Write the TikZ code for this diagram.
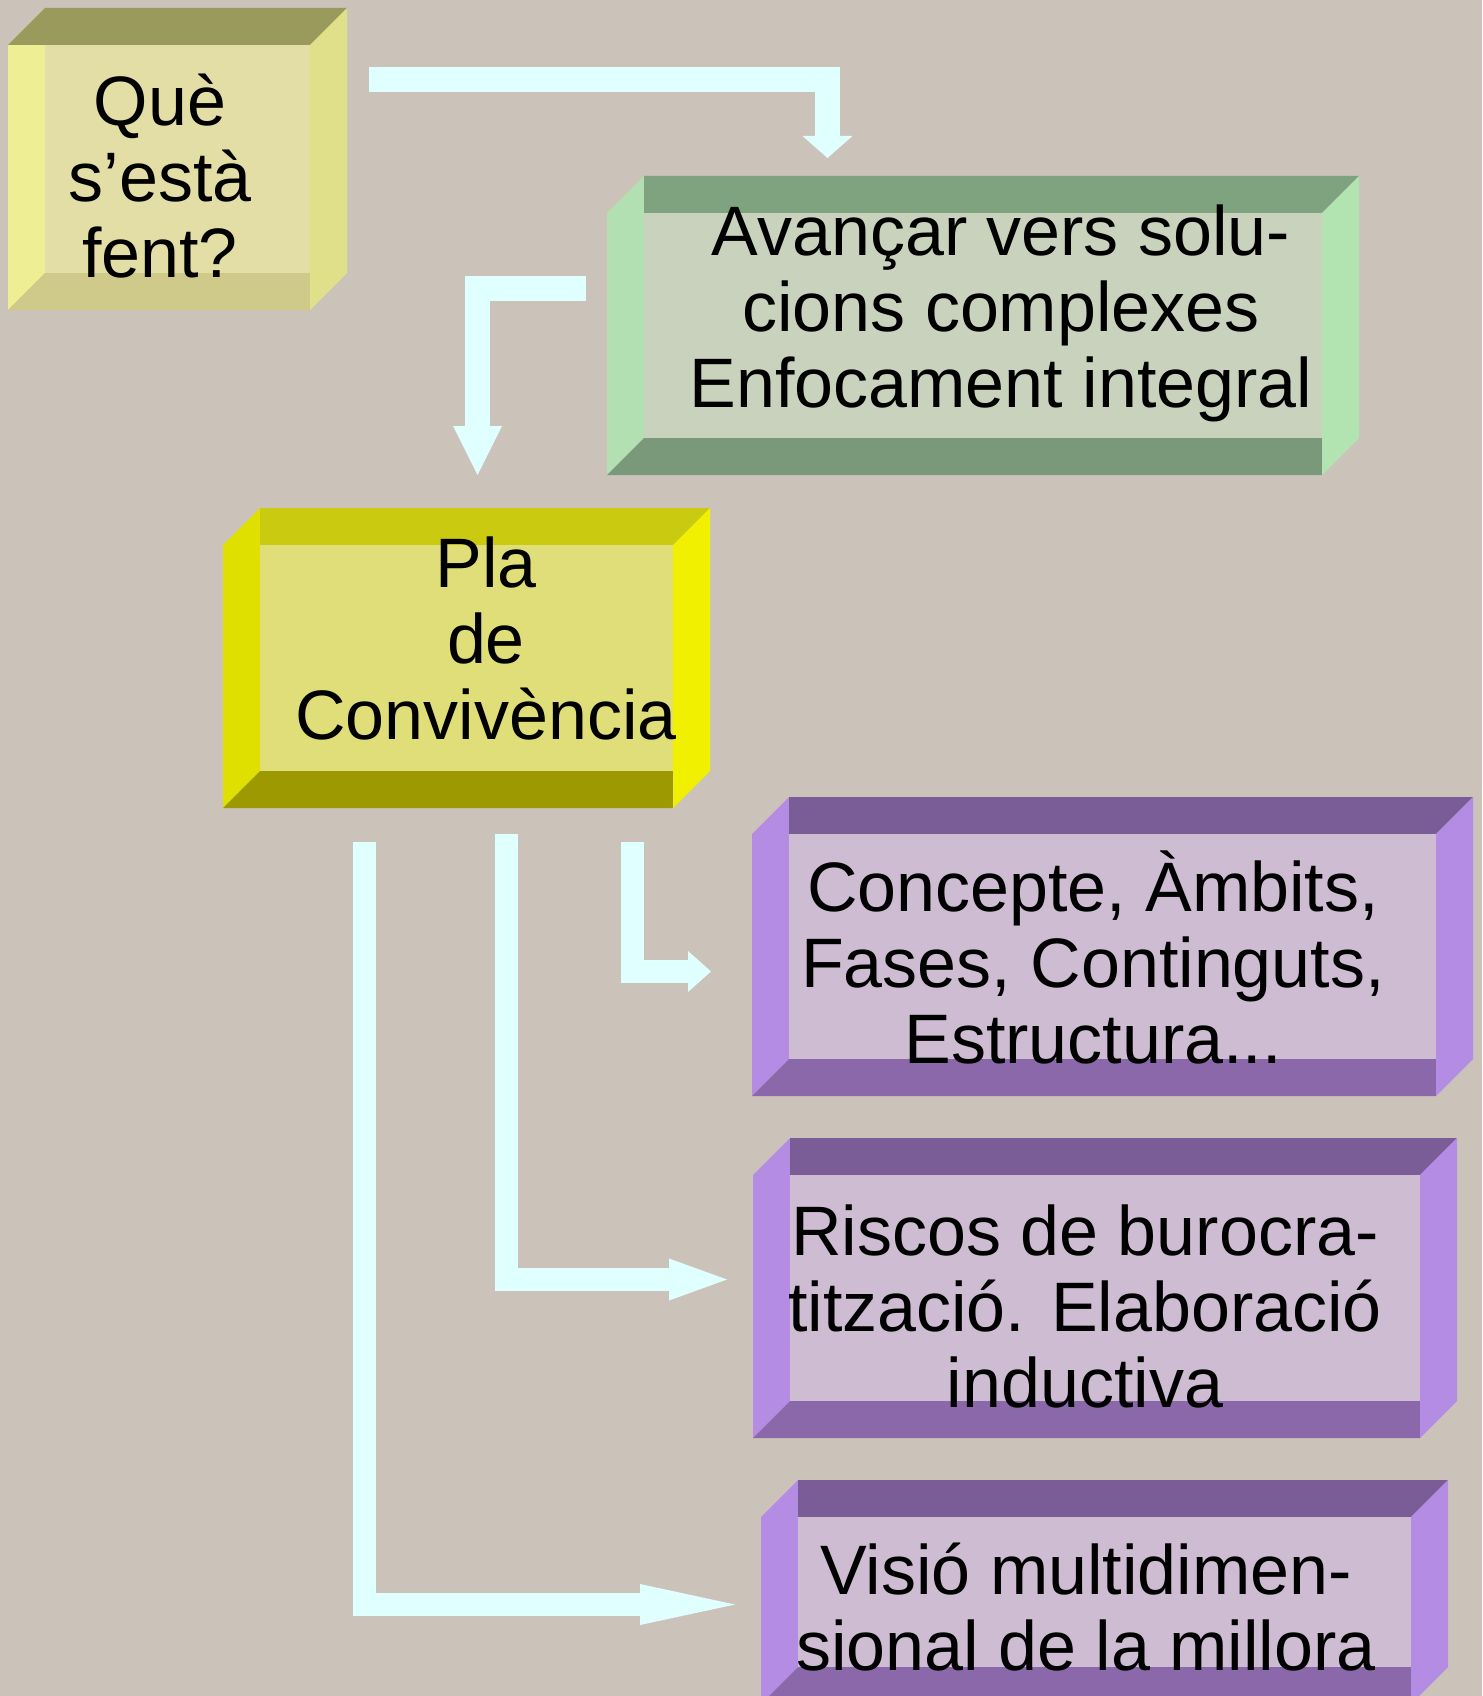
\documentclass[tikz,border=0pt]{standalone}
\usepackage{fontspec}
\setmainfont{Liberation Sans}
\usetikzlibrary{arrows.meta}

\definecolor{bg}{HTML}{CBC3B9}
\definecolor{arrowcyan}{HTML}{E0FFFF}
% pale yellow box
\definecolor{qtop}{HTML}{9A9A5C}
\definecolor{qleft}{HTML}{EEEE95}
\definecolor{qfront}{HTML}{E3DDA6}
\definecolor{qright}{HTML}{E0E08A}
\definecolor{qbottom}{HTML}{CFC98A}
% green box
\definecolor{gtop}{HTML}{7FA27F}
\definecolor{gleft}{HTML}{B2E0B2}
\definecolor{gfront}{HTML}{C9D2BC}
\definecolor{gright}{HTML}{B2E4B2}
\definecolor{gbottom}{HTML}{7A997A}
% yellow box
\definecolor{ytop}{HTML}{CACA10}
\definecolor{yleft}{HTML}{E0E000}
\definecolor{yfront}{HTML}{E0DE78}
\definecolor{yright}{HTML}{F0F000}
\definecolor{ybottom}{HTML}{9C9A00}
% purple boxes
\definecolor{ptop}{HTML}{7A5C96}
\definecolor{pleft}{HTML}{B48CE4}
\definecolor{pfront}{HTML}{CDBCD2}
\definecolor{pright}{HTML}{B48CE4}
\definecolor{pbottom}{HTML}{8A68AA}

% bevelled box: x0, y0, x1, y1, colour prefix
\newcommand{\bevelbox}[5]{%
  \fill[#5left] (#1,#2+37) -- (#1+37,#2) -- (#1+37,#4-37) -- (#1,#4) -- cycle;
  \fill[#5top] (#1+37,#2) -- (#3,#2) -- (#3-37,#2+37) -- (#1+37,#2+37) -- cycle;
  \fill[#5bottom] (#1,#4) -- (#1+37,#4-37) -- (#3-37,#4-37) -- (#3-37,#4) -- cycle;
  \fill[#5right] (#3-37,#2+37) -- (#3,#2) -- (#3,#4-37) -- (#3-37,#4) -- cycle;
  \fill[#5front] (#1+37,#2+37) rectangle (#3-37,#4-37);
}

\begin{document}
\begin{tikzpicture}[
    x=1pt, y=-1pt,
    txt/.style={align=center, inner sep=0pt, anchor=base, font=\fontsize{70}{76}\selectfont},
    shaft/.style={draw=arrowcyan, line width=25pt, line join=miter, line cap=butt},
    thinshaft/.style={shaft, line width=23pt}
]
    \useasboundingbox (0,0) rectangle (1482,1696);
    \clip (0,0) rectangle (1482,1696);
    \fill[bg] (0,0) rectangle (1482,1696);

    % Boxes
    \bevelbox{8}{8}{347}{310}{q}
    \fill[qtop] (8,45) -- (45,8) -- (45,45) -- cycle;
    \bevelbox{607}{176}{1359}{475}{g}
    \bevelbox{223}{508}{710}{808}{y}
    \bevelbox{752}{797}{1473}{1096}{p}
    \bevelbox{753}{1138}{1457}{1438}{p}
    \bevelbox{761}{1480}{1448}{1704}{p}

    % Texts
    \node (que) [txt] at (160,277) {Què\\s’està\\fent?};
    \node (avancar) [txt] at (1001,407) {Avançar vers solu-\\cions complexes\\Enfocament integral};
    \node (pla) [txt] at (486,739) {Pla\\de\\Convivència};
    \node (concepte) [txt] at (1093,1063) {Concepte, Àmbits,\\Fases, Continguts,\\Estructura...};
    \node (riscos) [txt] at (1085,1407) {Riscos de burocra-\\tització. Elaboració\\inductiva};
    \node (visio) [txt] at (1086,1670) {Visió multidimen-\\sional de la millora};

    % Arrow ends
    \coordinate (queout) at (369,79.5);
    \coordinate (avancarin) at (827.5,158);
    \coordinate (avancarout) at (586,288.5);
    \coordinate (plain) at (477.5,475);
    \coordinate (plaout1) at (632.5,842);
    \coordinate (plaout2) at (506.5,834);
    \coordinate (plaout3) at (364.5,842);
    \coordinate (conceptein) at (711,971.5);
    \coordinate (riscosin) at (727,1279.5);
    \coordinate (visioin) at (735,1604.5);

    % Arrows
    \draw [shaft, -{Triangle[width=50pt, length=22pt, line width=0pt]}] (queout) -| (avancarin);
    \draw [shaft, -{Triangle[width=49pt, length=49pt, line width=0pt]}] (avancarout) -| (plain);
    \draw [thinshaft, -{Triangle[width=41pt, length=23pt, line width=0pt]}] (plaout1) |- (conceptein);
    \draw [thinshaft, -{Triangle[width=42pt, length=58pt, line width=0pt]}] (plaout2) |- (riscosin);
    \draw [thinshaft, -{Triangle[width=41pt, length=95pt, line width=0pt]}] (plaout3) |- (visioin);

\end{tikzpicture}
\end{document}
